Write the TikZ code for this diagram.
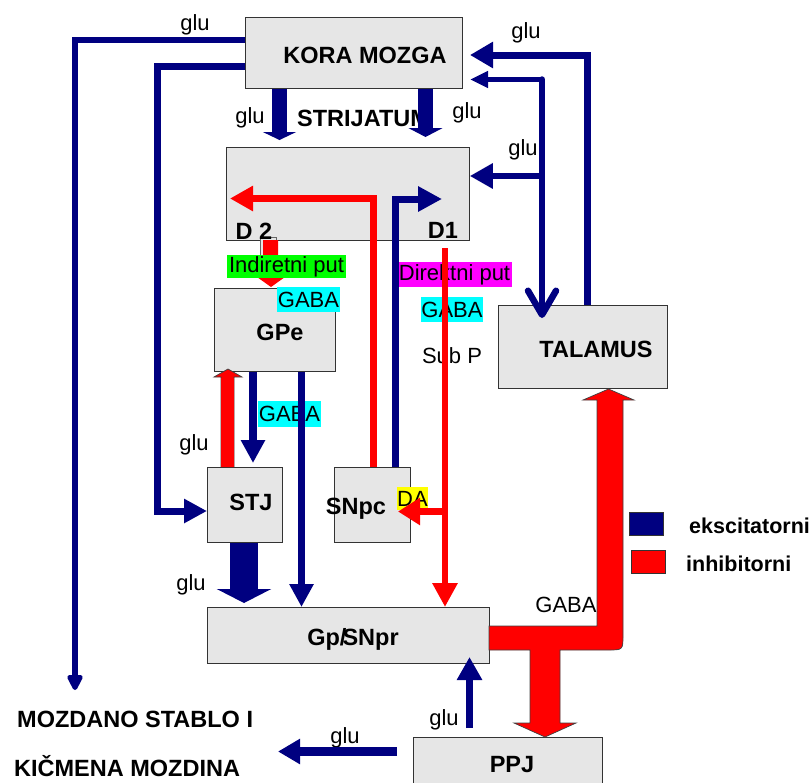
\documentclass[tikz,border=0pt]{standalone}
\usepackage{fontspec}
\setmainfont{Liberation Sans}
\usetikzlibrary{arrows.meta,calc}
\definecolor{nv}{HTML}{000080}
\definecolor{bx}{HTML}{E6E6E6}
\definecolor{tagcyan}{HTML}{00FFFF}
\definecolor{tagmag}{HTML}{FF00FF}
\definecolor{taggreen}{HTML}{00FF00}
\definecolor{tagyel}{HTML}{FFFF00}
\definecolor{rd}{HTML}{FF0000}
\begin{document}
\begin{tikzpicture}[x=1pt,y=-1pt,
  box/.style={draw=black!80, line width=0.8pt, fill=bx, inner sep=0pt, anchor=north west},
  bt/.style={font=\fontsize{23.5pt}{28pt}\selectfont\bfseries, inner sep=0pt, anchor=base},
  lt/.style={font=\fontsize{21.5pt}{26pt}\selectfont\bfseries, inner sep=0pt, anchor=base west},
  nt/.style={font=\fontsize{22pt}{26pt}\selectfont, inner sep=0pt, anchor=base},
  tag/.style={font=\fontsize{22pt}{26pt}\selectfont, inner sep=0pt, anchor=center},
  exc/.style={draw=nv, line width=#1},
  inh/.style={draw=rd, line width=#1},
  outl/.style={draw=black!75, line width=0.7pt},
  legbox/.style={draw=black!80, line width=0.8pt, minimum width=34pt, minimum height=23pt, inner sep=0pt, anchor=north west}
]
\useasboundingbox (0,0) rectangle (811,782);

% ---------- boxes ----------
\node[box, minimum width=217pt, minimum height=71pt] (kora) at (245,17) {};
\node[box, minimum width=243pt, minimum height=93pt] (str) at (226,147) {};
\node[box, minimum width=169pt, minimum height=83pt] (tal) at (498,305) {};
\node[box, minimum width=121pt, minimum height=83pt] (gpe) at (214,288) {};
\node[box, minimum width=75pt, minimum height=75pt] (stj) at (207,467) {};
\node[box, minimum width=76pt, minimum height=75pt] (snpc) at (334,467) {};
\node[box, minimum width=282pt, minimum height=56pt] (gp) at (207,607) {};
\node[box, minimum width=189pt, minimum height=60pt] (ppj) at (413,737) {};
\node[draw=black!60, line width=0.6pt, fill=bx, minimum width=16pt, minimum height=20pt, inner sep=0pt, anchor=north west] (d2box) at (260,237) {};

% ---------- D2 -> GPe small red arrow ----------
\fill[rd] (263,240) -- (263,277) -- (257,277) -- (271,287) -- (285,277) -- (278,277) -- (278,240) -- cycle;

% ---------- texts ----------
\node[bt] (koraT) at (365,63) {KORA MOZGA};
\node[bt, anchor=base west] (strT) at (297,126) {STRIJATUM};
\node[bt] (talT) at (596,357) {TALAMUS};
\node[bt] (gpeT) at (280,340) {GPe};
\node[bt] (stjT) at (251,510) {STJ};
\node[bt] (snpcT) at (356,514) {SNpc};
\node[bt] (gpT) at (353,645) {Gp/\kern-4pt SNpr};
\node[bt] (ppjT) at (512,772) {PPJ};
\node[bt] (d2T) at (254,239) {D 2};
\node[bt] (d1T) at (443,238) {D1};
\node[bt, anchor=base west] (mozT1) at (17,727) {MOZDANO STABLO I};
\node[bt, anchor=base west] (mozT2) at (14,776) {KIČMENA MOZDINA};

\node[tag, fill=taggreen, minimum width=119pt, minimum height=23pt] (indir) at (286.5,266.5) {Indiretni put};
\node[tag, fill=tagmag, minimum width=115pt, minimum height=25pt] (dir) at (454.5,274.5) {Direktni put};
\node[tag, fill=tagcyan, minimum width=63pt, minimum height=25pt] (gaba1) at (308.5,299.5) {GABA};
\node[tag, fill=tagcyan, minimum width=62pt, minimum height=25pt] (gaba2) at (452,309.5) {GABA};
\node[tag, fill=tagcyan, minimum width=63pt, minimum height=26pt] (gaba3) at (289.5,414) {GABA};
\node[tag, fill=tagyel, minimum width=31pt, minimum height=23pt] (da) at (412.5,498.5) {DA};
\node[nt] (gaba4) at (566,612) {GABA};
\node[nt] (subp) at (452,363) {Sub P};

\node[nt] (glu1) at (195,30.5) {glu};
\node[nt] (glu2) at (526,38.5) {glu};
\node[nt] (glu3) at (250,123.5) {glu};
\node[nt] (glu4) at (467,118.5) {glu};
\node[nt] (glu5) at (523,155.5) {glu};
\node[nt] (glu6) at (194,450.5) {glu};
\node[nt] (glu7) at (191,590.5) {glu};
\node[nt] (glu8) at (444,725.5) {glu};
\node[nt] (glu9) at (345,743.5) {glu};

% ---------- coordinates ----------
\coordinate (moz) at (75,690);
\coordinate (c2) at (157,511);
\coordinate (t1) at (279.5,140);
\coordinate (t2) at (425.5,137);
\coordinate (r1) at (587,55);
\coordinate (tk1) at (470,55);
\coordinate (r2) at (542,79.5);
\coordinate (tk2) at (470,79.5);
\coordinate (ttal) at (542,318);
\coordinate (r3) at (542,176);
\coordinate (rc) at (373.5,198.5);
\coordinate (rd2) at (230,198.5);
\coordinate (bc) at (395.5,199);
\coordinate (bd1) at (442,199);
\coordinate (rd1s) at (445,248);
\coordinate (rb) at (445,511.5);
\coordinate (tda) at (398,511.5);
\coordinate (gs) at (253,463);
\coordinate (gx) at (301.5,0);
\coordinate (tsg) at (244,603);
\coordinate (pps) at (469.5,728);
\coordinate (ppt) at (469.5,657);
\coordinate (pms) at (397,751.5);
\coordinate (pmt) at (278,751.5);

% ---------- excitatory (blue) connectors ----------
\draw[exc=6.5, -{Triangle[length=18pt,width=17pt,round]}] ($(kora.north west)+(0,23)$) -| (moz);
\draw[exc=7, -{Triangle[length=23pt,width=23pt]}] ($(kora.north west)+(0,49)$) -| (c2) -- (stj.west |- c2);
\draw[exc=15, -{Triangle[length=8pt,width=33pt]}] (kora.south -| t1) -- (t1);
\draw[exc=15, -{Triangle[length=9pt,width=34pt]}] (kora.south -| t2) -- (t2);
\draw[exc=7, -{Triangle[length=23pt,width=25pt]}] (tal.north -| r1) -- (r1) -- (tk1);
\draw[exc=5, -{Triangle[length=18pt,width=16pt]}] (r2) -- (tk2);
\draw[exc=6.5, line cap=round, -{Straight Barb[length=24pt,width=28pt,round]}] (r2) -- (ttal);
\draw[exc=6.5, -{Triangle[length=23pt,width=24pt]}] (r3) -- (str.east |- r3);
\draw[exc=7, -{Triangle[length=24pt,width=24pt]}] (snpc.north -| bc) -- (bc) -- (bd1);
\draw[exc=8, -{Triangle[length=23pt,width=23pt]}] (gpe.south -| gs) -- (gs);
\draw[exc=7, -{Triangle[length=23pt,width=23pt]}] (gpe.south -| gx) -- (gp.north -| gx);
\draw[exc=28, -{Triangle[length=14pt,width=54pt]}] (stj.south -| tsg) -- (tsg);
\draw[exc=7, -{Triangle[length=23pt,width=24pt]}] (pps) -- (ppt);
\draw[exc=8.5, -{Triangle[length=22pt,width=24pt]}] (pms) -- (pmt);

% ---------- inhibitory (red) connectors ----------
\draw[inh=7, -{Triangle[length=23pt,width=24pt]}] (snpc.north -| rc) -- (rc) -- (rd2);
\draw[inh=6.5, -{Triangle[length=24pt,width=24pt]}] (rd1s) -- (gp.north -| rd1s);
\draw[inh=6.5, -{Triangle[length=22pt,width=26pt]}] (rb) -- (tda);
\path[fill=rd, outl] (221,467) -- (221,377) -- (214,377) -- (228,369) -- (242,377) -- (234,377) -- (234,467);
\fill[rd] (221.4,467) rectangle (233.6,378);
\path[fill=rd, outl] (489,626) -- (597,626) -- (597,400) -- (583,400) -- (608.5,389) -- (634,400) -- (623,400) -- (623,635) .. controls (623,650) .. (608,650) -- (560,650) -- (560,723) -- (576,723) -- (545,737) -- (514,723) -- (530,723) -- (530,650) -- (489,650) -- cycle;

% ---------- legend ----------
\node[legbox, fill=nv] (lgE) at (629,512) {};
\node[legbox, fill=rd] (lgI) at (631,550) {};
\node[lt] (lgEt) at (689,533) {ekscitatorni};
\node[lt] (lgIt) at (686,571) {inhibitorni};
\end{tikzpicture}
\end{document}
